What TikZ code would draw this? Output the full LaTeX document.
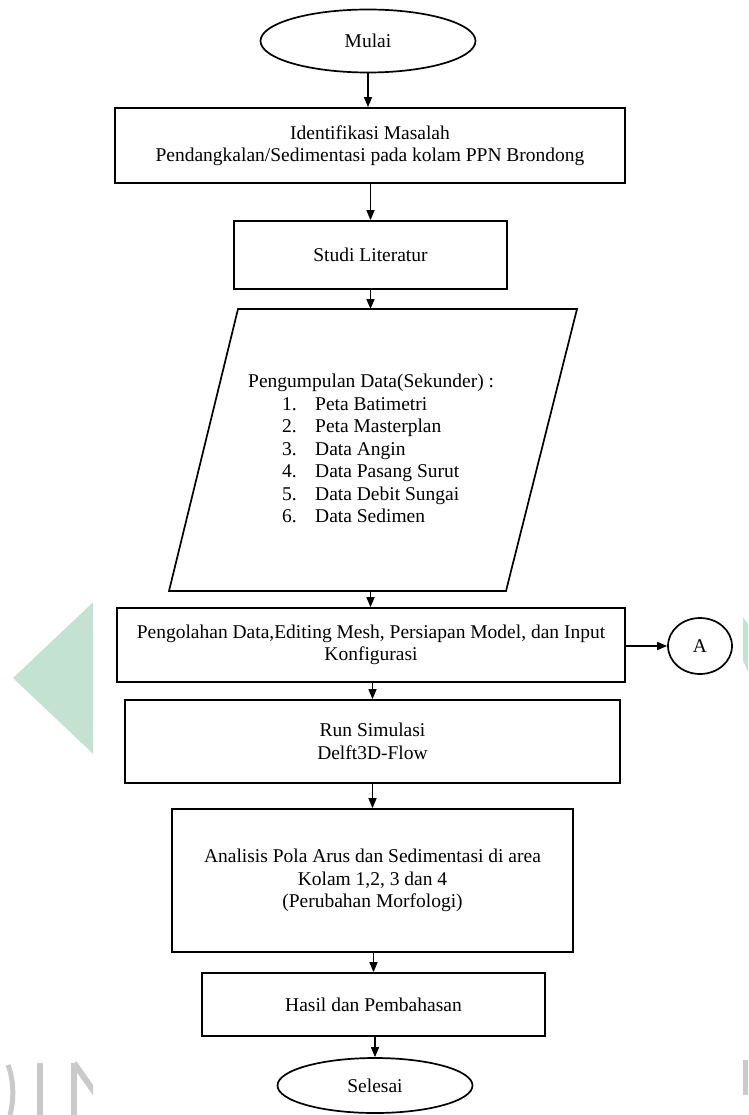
\documentclass[tikz,border=0pt]{standalone}
\usepackage{fontspec}
\setmainfont{Liberation Serif}
\usetikzlibrary{arrows.meta,shapes.geometric}
\definecolor{wmgreen}{HTML}{C3E2D2}
\definecolor{wmgrey}{HTML}{CACACA}
\begin{document}
\begin{tikzpicture}[x=1pt,y=-1pt,
  font=\fontsize{19.5}{22.5}\selectfont,
  every node/.style={inner sep=0pt},
  line/.style={line width=1.7pt},
  box/.style={draw,line width=1.7pt,rectangle,align=center},
  term/.style={draw,line width=1.7pt,ellipse},
  flow/.style={line width=1.4pt,-{Triangle[length=10pt,width=8pt]}}]
\useasboundingbox (0,0) rectangle (748,1115);
% watermark
\begin{scope}
\clip (0,0) rectangle (93,1115);
\fill[wmgreen] (13,678) -- (180,520) -- (180,836) -- cycle;
\draw[wmgrey,line width=5pt] (8,1065) .. controls (14,1080) and (14,1100) .. (10,1115);
\draw[wmgrey,line width=6pt] (40,1063) -- (40,1115);
\draw[wmgrey,line width=6pt] (74,1063) -- (74,1115);
\draw[wmgrey,line width=6pt] (74,1063) -- (100,1100);
\end{scope}
\begin{scope}
\clip (743,0) rectangle (748,1115);
\fill[wmgreen] (700,560) -- (760,640) -- (760,700) -- cycle;
\fill[wmgrey] (743,1060) rectangle (748,1095);
\end{scope}
% nodes
\node[term,minimum width=215pt,minimum height=63pt] (mulai) at (368,41) {Mulai};
\node[box,minimum width=510pt,minimum height=75pt] (ident) at (370,145.5)
  {Identifikasi Masalah\\Pendangkalan/Sedimentasi pada kolam PPN Brondong};
\node[box,minimum width=273pt,minimum height=68pt] (studi) at (370.5,255) {Studi Literatur};
\coordinate (dtop) at (370.5,309);
\coordinate (dbot) at (370.5,591);
\draw[line] (238,309) -- (577,309) -- (506,591) -- (169,591) -- cycle;
\node[anchor=west,align=left] (data) at (248,448.5)
  {Pengumpulan Data(Sekunder) :\\
   \hspace*{34pt}\makebox[33pt][l]{1.}Peta Batimetri\\
   \hspace*{34pt}\makebox[33pt][l]{2.}Peta Masterplan\\
   \hspace*{34pt}\makebox[33pt][l]{3.}Data Angin\\
   \hspace*{34pt}\makebox[33pt][l]{4.}Data Pasang Surut\\
   \hspace*{34pt}\makebox[33pt][l]{5.}Data Debit Sungai\\
   \hspace*{34pt}\makebox[33pt][l]{6.}Data Sedimen};
\node[box,minimum width=508pt,minimum height=74pt] (olah) at (371,645)
  {Pengolahan Data,Editing Mesh, Persiapan Model, dan Input\\Konfigurasi};
\node[term,minimum width=64pt,minimum height=56pt] (A) at (700,646) {A};
\node[box,minimum width=495pt,minimum height=83pt] (run) at (372.5,741.5)
  {Run Simulasi\\Delft3D-Flow};
\node[box,minimum width=401pt,minimum height=143pt] (anal) at (372.5,880.5)
  {Analisis Pola Arus dan Sedimentasi di area\\Kolam 1,2, 3 dan 4\\(Perubahan Morfologi)};
\node[box,minimum width=343pt,minimum height=63pt] (hasil) at (373.5,1004.5)
  {Hasil dan Pembahasan};
\node[term,minimum width=195pt,minimum height=55pt] (selesai) at (375,1085.5) {Selesai};
% connectors
\draw[flow] (mulai.south) -- (mulai.south |- ident.north);
\draw[flow] (ident.south -| studi.north) -- (studi.north);
\draw[flow] (studi.south) -- (dtop);
\draw[flow] (dbot) -- (dbot |- olah.north);
\draw[flow] (olah.east |- A.west) -- (A.west);
\draw[flow] (olah.south -| run.north) -- (run.north);
\draw[flow] (run.south -| anal.north) -- (anal.north);
\draw[flow] (anal.south -| hasil.north) -- (hasil.north);
\draw[flow] (hasil.south -| selesai.north) -- (selesai.north);
\end{tikzpicture}
\end{document}
